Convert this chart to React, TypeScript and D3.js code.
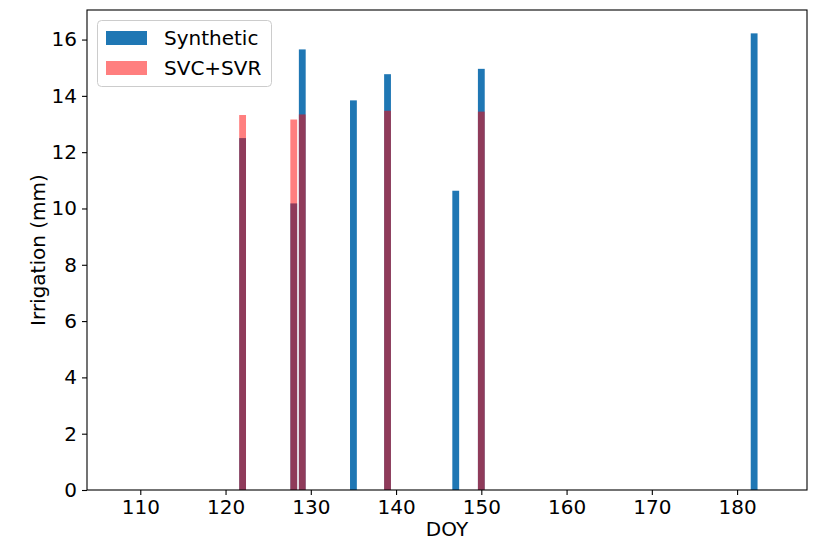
import React, { useEffect, useRef } from 'react';
import * as d3 from 'd3';

// day of year of each irrigation event
const doy = [122, 128, 129, 135, 139, 147, 150, 182];
// irrigation amounts (mm)
const synthetic = [12.5, 10.18, 15.65, 13.84, 14.77, 10.63, 14.96, 16.22];
const svcSvr = [13.32, 13.16, 13.34, 0, 13.47, 0, 13.44, 0];

const xTicks = [110, 120, 130, 140, 150, 160, 170, 180];
const yTicks = [0, 2, 4, 6, 8, 10, 12, 14, 16];

const W = 815;
const H = 541;
const margin = { top: 10, right: 8, bottom: 51, left: 87 };
const FONT = 'DejaVu Sans, sans-serif';

export default function App() {
  const svgRef = useRef<SVGSVGElement>(null);

  useEffect(() => {
    const svg = d3.select(svgRef.current);
    svg.selectAll('*').remove();

    const x = d3.scaleLinear().domain([103.75, 188.2]).range([margin.left, W - margin.right]);
    const y = d3.scaleLinear().domain([0, 17.05]).range([H - margin.bottom, margin.top]);
    const barW = 0.8;

    const rows = doy.map((d, i) => ({ doy: d, syn: synthetic[i], svc: svcSvr[i] }));

    // Synthetic bars
    svg.append('g')
      .selectAll('rect')
      .data(rows)
      .enter()
      .append('rect')
      .attr('x', d => x(d.doy - barW / 2))
      .attr('width', d => x(d.doy + barW / 2) - x(d.doy - barW / 2))
      .attr('y', d => y(d.syn))
      .attr('height', d => y(0) - y(d.syn))
      .attr('fill', '#1f77b4');

    // SVC+SVR bars (semi-transparent red)
    svg.append('g')
      .selectAll('rect')
      .data(rows.filter(d => d.svc > 0))
      .enter()
      .append('rect')
      .attr('x', d => x(d.doy - barW / 2))
      .attr('width', d => x(d.doy + barW / 2) - x(d.doy - barW / 2))
      .attr('y', d => y(d.svc))
      .attr('height', d => y(0) - y(d.svc))
      .attr('fill', 'red')
      .attr('fill-opacity', 0.5);

    // Axes
    const xAxis = svg.append('g')
      .attr('transform', `translate(0,${H - margin.bottom})`)
      .call(d3.axisBottom(x).tickValues(xTicks).tickSize(5).tickPadding(5).tickFormat(d3.format('d')));
    const yAxis = svg.append('g')
      .attr('transform', `translate(${margin.left},0)`)
      .call(d3.axisLeft(y).tickValues(yTicks).tickSize(5).tickPadding(5).tickFormat(d3.format('d')));

    [xAxis, yAxis].forEach(g => {
      g.select('.domain').remove();
      g.selectAll('text').attr('font-family', FONT).attr('font-size', 20).attr('fill', '#000');
      g.selectAll('line').attr('stroke', '#000').attr('stroke-width', 1.1);
    });

    // Frame
    svg.append('rect')
      .attr('x', margin.left)
      .attr('y', margin.top)
      .attr('width', W - margin.left - margin.right)
      .attr('height', H - margin.top - margin.bottom)
      .attr('fill', 'none')
      .attr('stroke', '#000')
      .attr('stroke-width', 1.1);

    // Labels
    svg.append('text')
      .attr('x', (margin.left + W - margin.right) / 2)
      .attr('y', 536)
      .attr('text-anchor', 'middle')
      .attr('font-family', FONT)
      .attr('font-size', 20)
      .text('DOY');

    svg.append('text')
      .attr('transform', `translate(45,${(margin.top + H - margin.bottom) / 2}) rotate(-90)`)
      .attr('text-anchor', 'middle')
      .attr('font-family', FONT)
      .attr('font-size', 20)
      .text('Irrigation (mm)');

    // Legend
    const lg = svg.append('g');
    lg.append('rect')
      .attr('x', 97.5).attr('y', 20.5)
      .attr('width', 174).attr('height', 66)
      .attr('rx', 4)
      .attr('fill', '#fff').attr('fill-opacity', 0.8)
      .attr('stroke', '#ccc');
    const items = [
      { label: 'Synthetic', color: '#1f77b4', op: 1 },
      { label: 'SVC+SVR', color: 'red', op: 0.5 },
    ];
    items.forEach((it, i) => {
      const cy = 38 + i * 30;
      lg.append('rect')
        .attr('x', 106).attr('y', cy - 7)
        .attr('width', 41).attr('height', 14)
        .attr('fill', it.color).attr('fill-opacity', it.op);
      lg.append('text')
        .attr('x', 164).attr('y', cy + 7)
        .attr('font-family', FONT)
        .attr('font-size', 20)
        .text(it.label);
    });
  }, []);

  return (
    <svg ref={svgRef} width={W} height={H} style={{ position: 'absolute', left: 0, top: 0 }} />
  );
}
